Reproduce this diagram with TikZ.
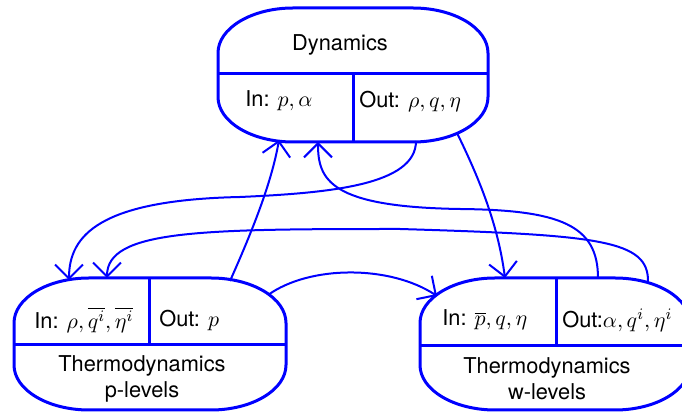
\documentclass[tikz,border=0pt]{standalone}
\usepackage{fontspec}
\setmainfont{TeX Gyre Heros}
\usetikzlibrary{arrows.meta}
\newcommand\ovbox[4]{%
  \draw[boxline] (#1,{#2+45}) .. controls (#1,{#2+20}) and ({#1+34},#2) .. ({#1+75},#2) -- ({#3-75},#2) .. controls ({#3-34},#2) and (#3,{#2+20}) .. (#3,{#2+45}) -- (#3,{#4-45}) .. controls (#3,{#4-20}) and ({#3-34},#4) .. ({#3-75},#4) -- ({#1+75},#4) .. controls ({#1+34},#4) and (#1,{#4-20}) .. (#1,{#4-45}) -- cycle;}
\begin{document}
\begin{tikzpicture}[x=0.5pt,y=-0.5pt,
  boxline/.style={draw=blue, line width=1.5pt},
  lbl/.style={inner sep=0pt, font=\fontsize{10.9}{13}\selectfont},
  arr/.style={draw=blue, line width=1pt, -{Straight Barb[length=7pt,width=14pt,line width=1pt]}}]
\clip (0,0) rectangle (682,416);
\useasboundingbox (0,0) rectangle (682,416);
% Dynamics
\ovbox{218}{8}{488}{142}
\draw[boxline] (218,74) -- (488,74) (353,74) -- (353,142);
\node[lbl] (dyn) at (340,45) {Dynamics};
\node[lbl, anchor=west] (dynin) at (245,101) {In: $p,\alpha$};
\node[lbl, anchor=west] (dynout) at (359,101) {Out: $\rho,q,\eta$};
% p-levels
\ovbox{14}{278}{286}{410}
\draw[boxline] (14,345) -- (286,345) (149,278) -- (149,345);
\node[lbl, anchor=west] (pin) at (34,320) {In: $\rho,\overline{q^i},\overline{\eta^i}$};
\node[lbl, anchor=west] (pout) at (159,320) {Out: $p$};
\node[lbl, align=center] (ptitle) at (142,379) {Thermodynamics\\p-levels};
% w-levels
\ovbox{420}{278}{690}{410}
\draw[boxline] (420,346) -- (690,346) (556,278) -- (556,346);
\node[lbl, anchor=west] (win) at (442,320) {In: $\overline{p},q,\eta$};
\node[lbl, anchor=west] (wout) at (562,320) {Out:$\alpha,q^i,\eta^i$};
\node[lbl, align=center] (wtitle) at (547,379) {Thermodynamics\\w-levels};
% connector end points
\coordinate (dIn1) at (279,140);
\coordinate (dIn2) at (318,142);
\coordinate (dOut1) at (416,141);
\coordinate (dOut2) at (457,133);
\coordinate (pIn1) at (69,280);
\coordinate (pIn2) at (107,278);
\coordinate (pOut1) at (230,281);
\coordinate (pOut2) at (268,295);
\coordinate (wIn1) at (437,296);
\coordinate (wIn2) at (505,278);
\coordinate (wOut1) at (598,278);
\coordinate (wOut2) at (648,282);
% connectors
\draw[arr] (dOut1) .. controls (416,185) and (330,193) .. (240,197) .. controls (100,200) and (69,235) .. (pIn1);
\draw[arr] (wOut2) .. controls (649,240) and (600,235) .. (400,229) .. controls (200,229) and (107,230) .. (pIn2);
\draw[arr] (wOut1) .. controls (598,225) and (560,210) .. (460,209) .. controls (330,207) and (318,180) .. (dIn2);
\draw[arr] (pOut1) .. controls (255,225) and (272,180) .. (dIn1);
\draw[arr] (dOut2) .. controls (480,180) and (498,225) .. (wIn2);
\draw[arr] (pOut2) .. controls (310,265) and (390,265) .. (wIn1);
\end{tikzpicture}
\end{document}
